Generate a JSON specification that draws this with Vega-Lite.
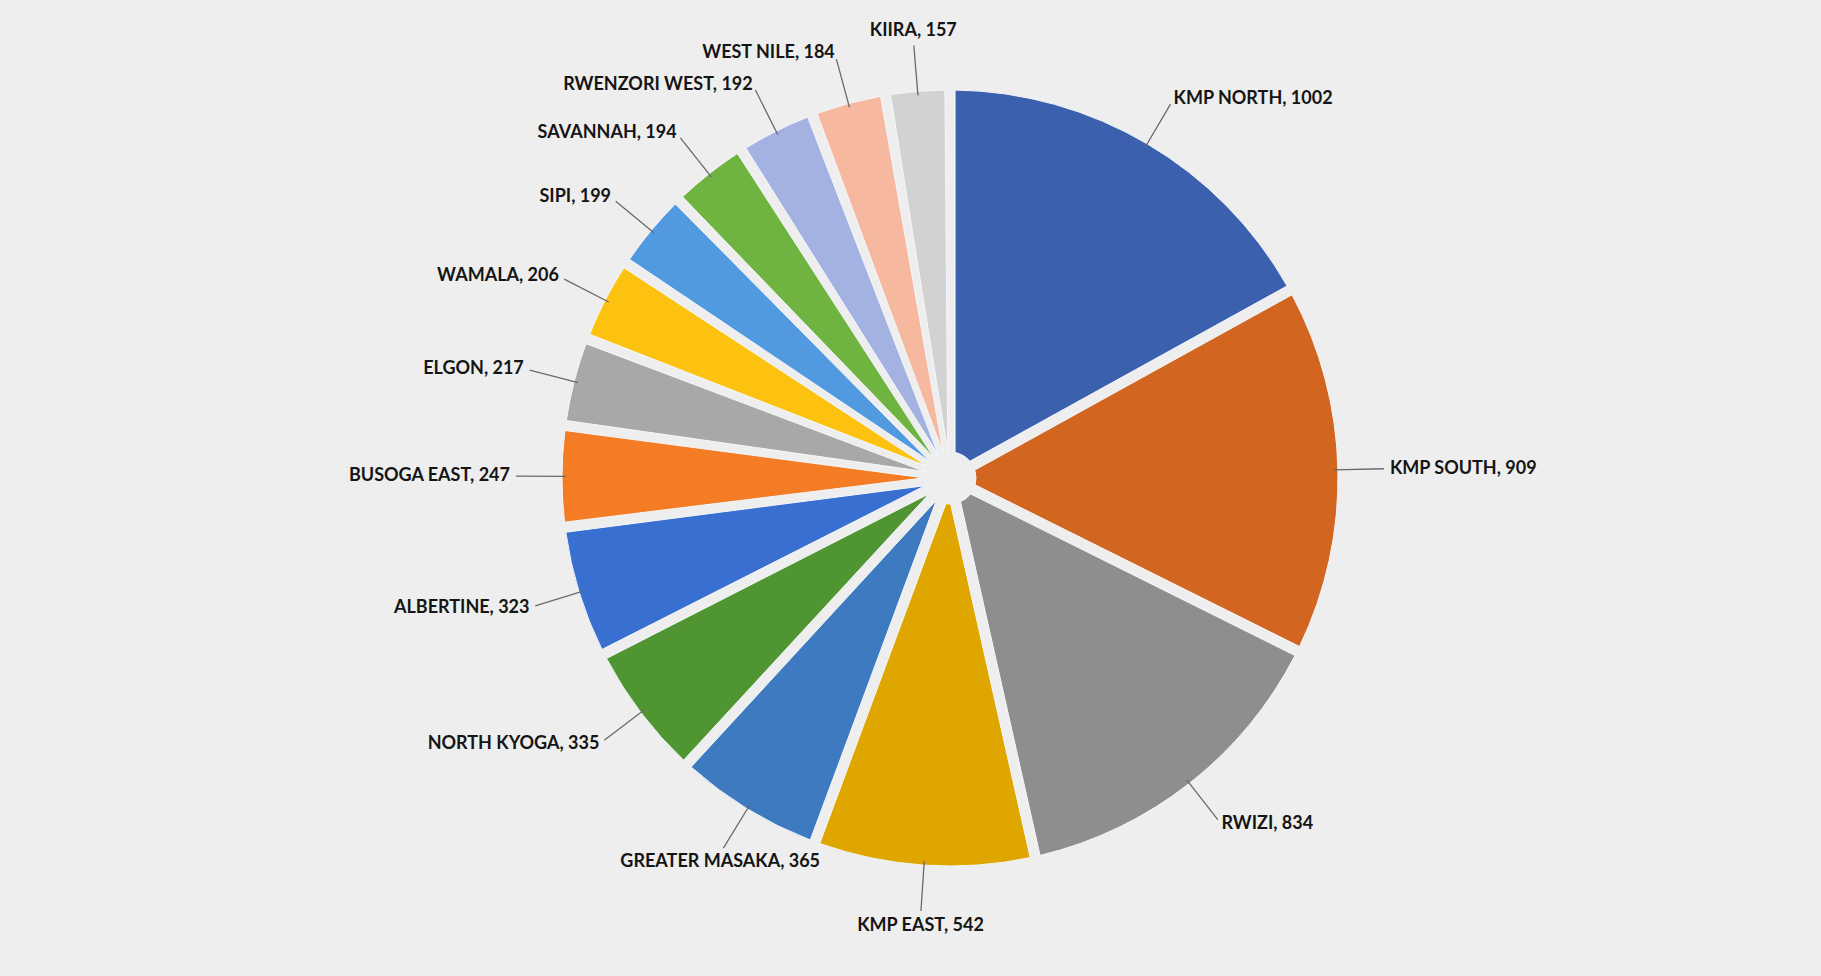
{
  "$schema": "https://vega.github.io/schema/vega-lite/v6.json",
  "width": 1821,
  "height": 976,
  "autosize": {"type": "fit", "contains": "padding"},
  "padding": {"left": 79, "right": 0, "top": 0, "bottom": 20},
  "background": "#eeeeee",
  "view": {"stroke": null},
  "data": {
    "values": [
      {"region": "KMP NORTH", "count": 1002},
      {"region": "KMP SOUTH", "count": 909},
      {"region": "RWIZI", "count": 834},
      {"region": "KMP EAST", "count": 542},
      {"region": "GREATER MASAKA", "count": 365},
      {"region": "NORTH KYOGA", "count": 335},
      {"region": "ALBERTINE", "count": 323},
      {"region": "BUSOGA EAST", "count": 247},
      {"region": "ELGON", "count": 217},
      {"region": "WAMALA", "count": 206},
      {"region": "SIPI", "count": 199},
      {"region": "SAVANNAH", "count": 194},
      {"region": "RWENZORI WEST", "count": 192},
      {"region": "WEST NILE", "count": 184},
      {"region": "KIIRA", "count": 157}
    ]
  },
  "encoding": {
    "theta": {"field": "count", "type": "quantitative", "stack": true},
    "order": {"field": "count", "sort": "descending"}
  },
  "layer": [
    {
      "mark": {"type": "arc", "outerRadius": 388, "innerRadius": 26, "padAngle": 0.026, "stroke": "#f4f7fb", "strokeWidth": 1},
      "encoding": {
        "color": {
          "field": "region",
          "type": "nominal",
          "legend": null,
          "scale": {
            "domain": ["KMP NORTH", "KMP SOUTH", "RWIZI", "KMP EAST", "GREATER MASAKA", "NORTH KYOGA", "ALBERTINE", "BUSOGA EAST", "ELGON", "WAMALA", "SIPI", "SAVANNAH", "RWENZORI WEST", "WEST NILE", "KIIRA"],
            "range": ["#3b60ae", "#d2651f", "#8e8e8e", "#e0a600", "#3d7abf", "#4f9632", "#3a6fd2", "#f47c25", "#a8a8a8", "#fdc10f", "#529ae0", "#6fb440", "#a4b2e2", "#f7b8a0", "#d2d2d2"]
          }
        }
      }
    },
    {
      "transform": [
        {"stack": "count", "groupby": [], "sort": [{"field": "count", "order": "descending"}], "as": ["s0", "s1"]}
      ],
      "mark": {
        "type": "arc",
        "outerRadius": 434,
        "innerRadius": 384,
        "fill": null,
        "stroke": "#6a6a6a",
        "strokeWidth": 1.3,
        "thetaOffset": {"expr": "-PI*datum.count/5906"},
        "theta2Offset": {"expr": "-PI*datum.count/5906"}
      },
      "encoding": {
        "theta": {"field": "s1", "type": "quantitative", "stack": null},
        "theta2": {"field": "s1"}
      }
    },
    {
      "mark": {
        "type": "text",
        "radius": 440,
        "font": "Lato",
        "fontWeight": "bold",
        "fontSize": 18,
        "text": {"expr": "datum.region + ', ' + datum.count"},
        "align": {"expr": "((datum.count_start+datum.count_end)/11812 < 0.03 || (datum.count_start+datum.count_end)/11812 > 0.97 || ((datum.count_start+datum.count_end)/11812 > 0.47 && (datum.count_start+datum.count_end)/11812 < 0.6)) ? 'center' : ((datum.count_start+datum.count_end)/11812 < 0.5 ? 'left' : 'right')"},
        "baseline": {"expr": "((datum.count_start+datum.count_end)/11812 < 0.03 || (datum.count_start+datum.count_end)/11812 > 0.97) ? 'bottom' : (((datum.count_start+datum.count_end)/11812 > 0.47 && (datum.count_start+datum.count_end)/11812 < 0.6) ? 'top' : 'middle')"}
      },
      "encoding": {"color": {"value": "#151515"}}
    }
  ]
}
